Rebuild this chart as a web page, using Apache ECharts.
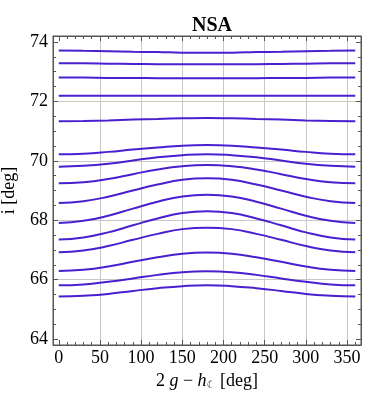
<!DOCTYPE html>
<html>
<head>
<meta charset="utf-8">
<script src="https://cdn.jsdelivr.net/npm/echarts@6/dist/echarts.min.js"></script>
<style>
  html, body { margin: 0; padding: 0; background: #fff; }
  #chart { width: 379px; height: 403px; }
</style>
</head>
<body>
<div id="chart"></div>
<script>
// angle 2g - h (deg)
var xDeg = [0, 30, 60, 90, 120, 150, 180, 210, 240, 270, 300, 330, 360];

// inclination i (deg), top curve first
var i1  = [73.71, 73.70, 73.69, 73.67, 73.66, 73.64, 73.64, 73.64, 73.66, 73.67, 73.69, 73.70, 73.71];
var i2  = [73.28, 73.28, 73.27, 73.26, 73.25, 73.25, 73.25, 73.25, 73.25, 73.26, 73.27, 73.28, 73.28];
var i3  = [72.80, 72.80, 72.79, 72.79, 72.78, 72.78, 72.78, 72.78, 72.78, 72.79, 72.79, 72.80, 72.80];
var i4  = [72.19, 72.19, 72.19, 72.19, 72.19, 72.19, 72.19, 72.19, 72.19, 72.19, 72.19, 72.19, 72.19];
var i5  = [71.33, 71.34, 71.36, 71.39, 71.41, 71.43, 71.44, 71.43, 71.41, 71.39, 71.36, 71.34, 71.33];
var i6  = [70.22, 70.24, 70.30, 70.38, 70.45, 70.51, 70.53, 70.51, 70.45, 70.38, 70.30, 70.24, 70.22];
var i7  = [69.80, 69.83, 69.90, 70.01, 70.12, 70.19, 70.22, 70.19, 70.12, 70.01, 69.90, 69.83, 69.80];
var i8  = [69.24, 69.28, 69.39, 69.55, 69.71, 69.82, 69.86, 69.82, 69.71, 69.55, 69.39, 69.28, 69.24];
var i9  = [68.58, 68.64, 68.79, 69.00, 69.20, 69.36, 69.41, 69.36, 69.20, 69.00, 68.79, 68.64, 68.58];
var i10 = [67.91, 67.98, 68.15, 68.39, 68.62, 68.80, 68.86, 68.80, 68.62, 68.39, 68.15, 67.98, 67.91];
var i11 = [67.35, 67.42, 67.59, 67.83, 68.06, 68.24, 68.30, 68.24, 68.06, 67.83, 67.59, 67.42, 67.35];
var i12 = [66.92, 66.98, 67.13, 67.34, 67.54, 67.70, 67.75, 67.70, 67.54, 67.34, 67.13, 66.98, 66.92];
var i13 = [66.29, 66.33, 66.44, 66.60, 66.75, 66.87, 66.91, 66.87, 66.75, 66.60, 66.44, 66.33, 66.29];
var i14 = [65.81, 65.84, 65.93, 66.04, 66.16, 66.25, 66.28, 66.25, 66.16, 66.04, 65.93, 65.84, 65.81];
var i15 = [65.43, 65.46, 65.52, 65.62, 65.71, 65.78, 65.81, 65.78, 65.71, 65.62, 65.52, 65.46, 65.43];

var curves = [i1, i2, i3, i4, i5, i6, i7, i8, i9, i10, i11, i12, i13, i14, i15];

var serif = 'Liberation Serif';
var frameColor = '#555';
var gridColor = '#c8c8c8';
var none = 'rgba(0,0,0,0)';

function frameAxis(pos, isX, showLabel) {
    var ax = {
        type: 'value',
        position: pos,
        min: isX ? -7 : 63.8,
        max: isX ? 367 : 74.2,
        splitNumber: isX ? 8 : 5,
        minInterval: isX ? 50 : 2,
        maxInterval: isX ? 50 : 2,
        axisLine: { show: true, onZero: false, lineStyle: { color: frameColor, width: 1 } },
        axisTick: { show: true, inside: true, length: 5, lineStyle: { color: frameColor } },
        minorTick: { show: true, splitNumber: isX ? 5 : 4, length: 3, lineStyle: { color: frameColor } },
        splitLine: { show: false },
        axisLabel: { show: false }
    };
    if (showLabel) {
        ax.axisLabel = {
            show: true,
            fontFamily: serif,
            fontSize: 18,
            color: '#000',
            margin: isX ? 4 : 5,
            formatter: function (v) {
                var step = isX ? 50 : 2;
                return Math.abs(v / step - Math.round(v / step)) < 1e-6 ? String(Math.round(v)) : '';
            }
        };
        ax.splitLine = {
            show: true,
            showMinLine: false,
            showMaxLine: false,
            lineStyle: {
                color: isX ? [none, gridColor, gridColor, gridColor, gridColor, gridColor, gridColor, gridColor]
                           : [none, gridColor, gridColor, gridColor, gridColor, none],
                width: 1
            }
        };
    }
    return ax;
}

var chart = echarts.init(document.getElementById('chart'));

var xMain = frameAxis('bottom', true, true);
xMain.name = '2 {it|g} \u2212 {it|h}{sub|\u263E} [deg]';
xMain.nameLocation = 'middle';
xMain.nameGap = 27;
xMain.nameTextStyle = {
    fontFamily: serif, fontSize: 18, color: '#000',
    rich: {
        it: { fontFamily: serif, fontStyle: 'italic', fontSize: 18, color: '#000' },
        sub: { fontFamily: 'DejaVu Sans', fontSize: 10, color: '#000', verticalAlign: 'bottom', padding: [6, 0, 0, 0] }
    }
};

var yMain = frameAxis('left', false, true);
yMain.name = 'i [deg]';
yMain.nameLocation = 'middle';
yMain.nameRotate = 90;
yMain.nameGap = 35;
yMain.nameTextStyle = { fontFamily: serif, fontSize: 18, color: '#000' };

var option = {
    animation: false,
    backgroundColor: '#fff',
    title: {
        text: 'NSA',
        left: 207,
        textAlign: 'center',
        top: 11,
        textStyle: { fontFamily: serif, fontWeight: 'bold', fontSize: 20, color: '#000' }
    },
    grid: {
        left: 53, top: 36, width: 308, height: 309,
        outerBoundsMode: 'none',
        containLabel: false,
        show: true, borderColor: frameColor, borderWidth: 1
    },
    xAxis: [xMain, frameAxis('top', true, false)],
    yAxis: [yMain, frameAxis('right', false, false)],
    series: curves.map(function (arr, k) {
        return {
            name: 'c' + (k + 1),
            type: 'line',
            xAxisIndex: 0,
            yAxisIndex: 0,
            smooth: true,
            symbol: 'none',
            lineStyle: { color: '#4a1fcf', width: 2 },
            data: xDeg.map(function (x, j) { return [x, arr[j]]; })
        };
    })
};

chart.setOption(option);
</script>
</body>
</html>
